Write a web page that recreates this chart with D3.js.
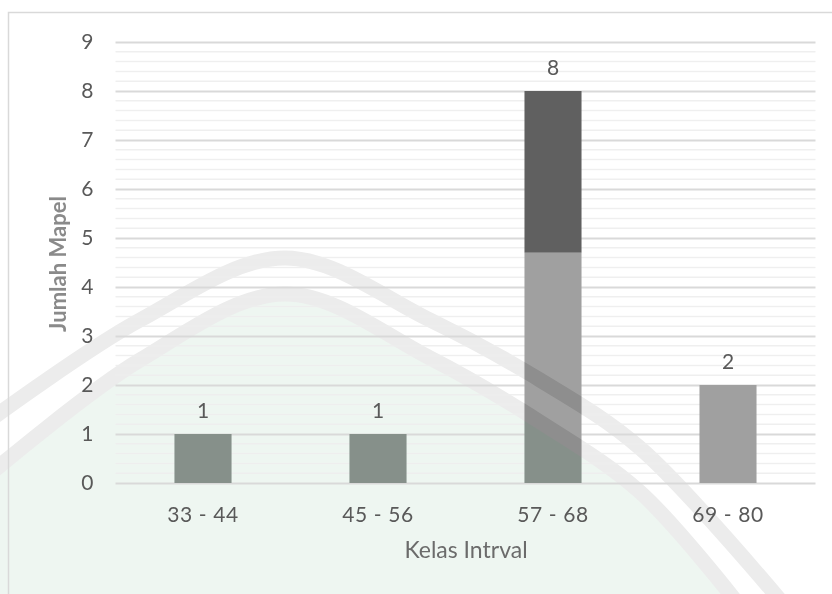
<!DOCTYPE html>
<html>
<head>
<meta charset="utf-8">
<script src="https://cdn.jsdelivr.net/npm/d3@7"></script>
<style>
  html, body { margin: 0; padding: 0; background: #ffffff; }
  svg { display: block; font-family: Lato, "Open Sans", sans-serif; }
</style>
</head>
<body>
<svg id="chart" width="832" height="594"></svg>
<script>
// Frequency of subjects per score interval
const categories = ["33 - 44", "45 - 56", "57 - 68", "69 - 80"];
const lowerSeries = [1, 1, 4.7, 2];
const upperSeries = [0, 0, 3.3, 0];
const yTicks = [0, 1, 2, 3, 4, 5, 6, 7, 8, 9];
const xTitle = "Kelas Intrval";
const yTitle = "Jumlah Mapel";

const svg = d3.select("#chart");
const W = 832, H = 594;
const m = { left: 115.5, right: 16.5, top: 42, bottom: 111 };

const x = d3.scaleBand()
  .domain(categories)
  .range([m.left, W - m.right])
  .paddingInner(0.674)
  .paddingOuter(0.337);

const y = d3.scaleLinear()
  .domain([0, 9])
  .range([H - m.bottom, m.top]);

// Background emblem: pale green field under a double arch
const curve = d3.line().curve(d3.curveCatmullRom.alpha(0.5));
const outerArch = [[-10, 420], [140, 320], [285, 258], [430, 320], [540, 380], [640, 448], [780, 600]];
const innerArch = [[-10, 474], [140, 360], [285, 294], [430, 358], [540, 422], [640, 492], [735, 600]];
const fieldPath = curve(innerArch) + "L735,600L-10,600Z";

const wm = svg.append("g").attr("class", "emblem");
wm.append("path").attr("d", fieldPath).attr("fill", "#eef6f1");
[outerArch, innerArch].forEach(pts => {
  wm.append("path")
    .attr("d", curve(pts))
    .attr("fill", "none")
    .attr("stroke", "#ececec")
    .attr("stroke-width", 15);
});

// Chart frame
svg.append("rect")
  .attr("x", 8.5).attr("y", 12.5)
  .attr("width", W + 20).attr("height", H + 20)
  .attr("fill", "none").attr("stroke", "#d9d9d9").attr("stroke-width", 1.5);

// Minor gridlines (0.2 steps)
const minor = d3.range(0, 9, 0.2).filter(v => Math.abs(v - Math.round(v)) > 1e-6);
svg.append("g").selectAll("line").data(minor).join("line")
  .attr("x1", m.left).attr("x2", W - m.right)
  .attr("y1", d => y(d)).attr("y2", d => y(d))
  .attr("stroke", "#eeeeee").attr("stroke-width", 1.5)
  .attr("opacity", 0.9);

// Y axis with major gridlines
const yAxis = svg.append("g")
  .attr("transform", `translate(${m.left},0)`)
  .call(d3.axisLeft(y).tickValues(yTicks).tickSize(-(W - m.left - m.right)).tickPadding(22));
yAxis.select(".domain").remove();
yAxis.selectAll(".tick line").attr("stroke", "#d9d9d9").attr("stroke-width", 1.8);
yAxis.selectAll(".tick text")
  .attr("font-size", 21).attr("fill", "#595959").attr("font-family", "Lato, sans-serif");

// Stacked bars
const stackData = categories.map((c, i) => ({ cat: c, lower: lowerSeries[i], upper: upperSeries[i] }));
const stack = d3.stack().keys(["lower", "upper"])(stackData);
const colors = { lower: "#a0a0a0", upper: "#606060" };
const segments = stack.flatMap(s => s.filter(d => d[1] - d[0] > 0).map(d => ({ key: s.key, d })));

const barG = svg.append("g");
barG.selectAll("rect").data(segments).join("rect")
  .attr("x", s => x(s.d.data.cat))
  .attr("width", x.bandwidth())
  .attr("y", s => y(s.d[1]))
  .attr("height", s => y(s.d[0]) - y(s.d[1]))
  .attr("fill", s => colors[s.key]);

// Emblem showing through the bars
const clip = svg.append("defs").append("clipPath").attr("id", "barClip");
clip.selectAll("rect").data(segments).join("rect")
  .attr("x", s => x(s.d.data.cat))
  .attr("width", x.bandwidth())
  .attr("y", s => y(s.d[1]))
  .attr("height", s => y(s.d[0]) - y(s.d[1]));
const tint = svg.append("g").attr("clip-path", "url(#barClip)").style("mix-blend-mode", "multiply");
tint.append("path").attr("d", fieldPath).attr("fill", "#d5e6dc");
[outerArch, innerArch].forEach(pts => {
  tint.append("path")
    .attr("d", curve(pts)).attr("fill", "none")
    .attr("stroke", "#e2e2e2").attr("stroke-width", 15);
});

// Bar totals
svg.append("g").selectAll("text").data(stackData).join("text")
  .attr("x", d => x(d.cat) + x.bandwidth() / 2)
  .attr("y", d => y(d.lower + d.upper) - 16)
  .attr("text-anchor", "middle")
  .attr("font-size", 21).attr("fill", "#595959")
  .text(d => d3.format("~g")(d.lower + d.upper));

// X axis labels
const xAxis = svg.append("g")
  .attr("transform", `translate(0,${y(0)})`)
  .call(d3.axisBottom(x).tickSize(0).tickPadding(24));
xAxis.select(".domain").remove();
xAxis.selectAll(".tick text")
  .attr("font-size", 21).attr("fill", "#595959").attr("font-family", "Lato, sans-serif")
  .attr("letter-spacing", 0.6);

// Axis titles
svg.append("text")
  .attr("x", 466).attr("y", 558)
  .attr("text-anchor", "middle")
  .attr("font-size", 23).attr("fill", "#6b6b6b")
  .text(xTitle);
svg.append("text")
  .attr("transform", "translate(66,264) rotate(-90)")
  .attr("text-anchor", "middle")
  .attr("font-size", 22).attr("font-weight", 700).attr("fill", "#8a8a8a")
  .text(yTitle);
</script>
</body>
</html>
